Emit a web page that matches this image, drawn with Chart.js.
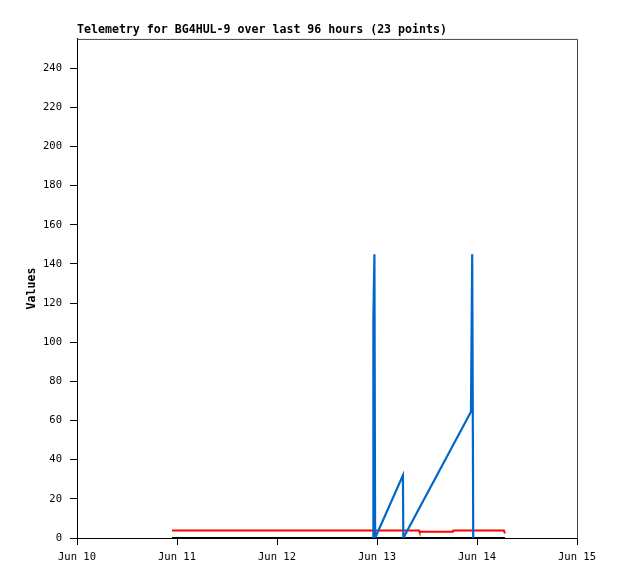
<!DOCTYPE html>
<html>
<head>
<meta charset="utf-8">
<script src="https://cdn.jsdelivr.net/npm/chart.js@4/dist/chart.umd.min.js"></script>
<style>
html,body{margin:0;padding:0;background:#fff;}
canvas{display:block;}
</style>
</head>
<body>
<canvas id="c" width="618" height="579"></canvas>
<script>
// Time in hours since Jun 10 00:00
const blueHours = [71.1, 71.13, 71.38, 71.55, 78.22, 78.32, 94.55, 94.85, 95.1];
const blueValues = [0, 112, 145, 0, 32, 0, 64.5, 145, 0];
const redHours = [22.8, 82.1, 82.2, 90.2, 90.3, 102.45, 102.7];
const redValues = [3.8, 3.8, 3.2, 3.2, 3.8, 3.8, 2.4];
const blackHours = [22.8, 102.7];
const blackValues = [0, 0];
const xTickHours = [0, 24, 48, 72, 96, 120];
const xTickLabels = ["Jun 10", "Jun 11", "Jun 12", "Jun 13", "Jun 14", "Jun 15"];
const yTicks = [0, 20, 40, 60, 80, 100, 120, 140, 160, 180, 200, 220, 240];
const titleText = "Telemetry for BG4HUL-9 over last 96 hours (23 points)";

const pts = (xs, ys) => xs.map((x, i) => ({x: x, y: ys[i]}));
const mono = "'DejaVu Sans Mono', 'Liberation Mono', monospace";

const borderPlugin = {
  id: 'plotBorder',
  afterDraw(chart) {
    const a = chart.chartArea, ctx = chart.ctx;
    ctx.save();
    ctx.strokeStyle = '#444';
    ctx.lineWidth = 1;
    ctx.beginPath();
    ctx.moveTo(a.left, a.top + 0.5);
    ctx.lineTo(a.right + 0.5, a.top + 0.5);
    ctx.lineTo(a.right + 0.5, a.bottom);
    ctx.stroke();
    ctx.restore();
  }
};

new Chart(document.getElementById('c'), {
  type: 'line',
  data: {
    datasets: [
      {data: pts(blueHours, blueValues), borderColor: '#0066cc', borderWidth: 2.2, pointRadius: 0, tension: 0, fill: false},
      {data: pts(redHours, redValues), borderColor: '#ff0000', borderWidth: 2, pointRadius: 0, tension: 0, fill: false},
      {data: pts(blackHours, blackValues), borderColor: '#000000', borderWidth: 2, pointRadius: 0, tension: 0, fill: false}
    ]
  },
  options: {
    responsive: false,
    animation: false,
    devicePixelRatio: 1,
    layout: {padding: {left: 0, right: 41, top: 0, bottom: 0}},
    plugins: {
      legend: {display: false},
      tooltip: {enabled: false},
      title: {
        display: true,
        text: titleText,
        align: 'start',
        fullSize: false,
        color: '#000',
        font: {family: mono, weight: 'bold', size: 11.6, lineHeight: 1.2},
        padding: {top: 23, bottom: 2}
      }
    },
    scales: {
      x: {
        type: 'linear',
        min: 0,
        max: 120,
        afterBuildTicks: s => { s.ticks = xTickHours.map(v => ({value: v})); },
        afterFit: s => { s.height = 41; },
        grid: {drawOnChartArea: false, drawTicks: true, tickLength: 7, color: '#000'},
        border: {display: true, color: '#000'},
        ticks: {
          color: '#000',
          font: {family: mono, size: 10.5},
          padding: 6,
          maxRotation: 0,
          autoSkip: false,
          callback: (v) => { const i = xTickHours.indexOf(v); return i >= 0 ? xTickLabels[i] : ''; }
        }
      },
      y: {
        type: 'linear',
        min: 0,
        max: 255,
        afterBuildTicks: s => { s.ticks = yTicks.map(v => ({value: v})); },
        afterFit: s => { s.width = 77; },
        grid: {drawOnChartArea: false, drawTicks: true, tickLength: 7, color: '#000'},
        border: {display: true, color: '#000'},
        ticks: {color: '#000', font: {family: mono, size: 10.5}, padding: 8, autoSkip: false},
        title: {
          display: true,
          text: 'Values',
          color: '#000',
          font: {family: mono, weight: 'bold', size: 11.6, lineHeight: 1.2},
          padding: {top: 25, bottom: 0}
        }
      }
    }
  },
  plugins: [borderPlugin]
});
</script>
</body>
</html>
